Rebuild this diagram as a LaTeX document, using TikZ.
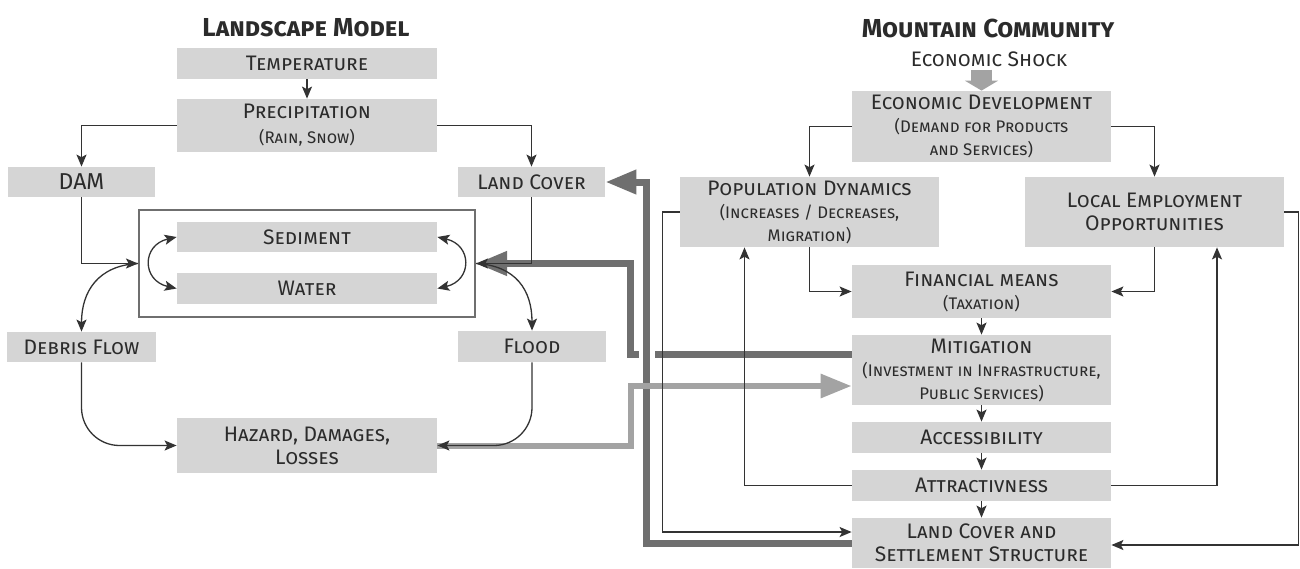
\documentclass[tikz,border=0pt]{standalone}
\usepackage{fontspec}
\setmainfont{Fira Sans}
\usetikzlibrary{arrows.meta}
\definecolor{boxg}{HTML}{D5D5D5}
\definecolor{txt}{HTML}{2B2B2B}
\definecolor{dg}{HTML}{6F6F6F}
\definecolor{lg}{HTML}{A3A3A3}
\definecolor{ln}{HTML}{333333}
\newcommand\mainsz{\fontsize{10.5}{11.5}\selectfont}
\newcommand\subsz{\fontsize{8.4}{10}\selectfont}
\begin{document}
\begin{tikzpicture}[x=0.5pt,y=-0.5pt,
 box/.style={fill=boxg,inner sep=0pt,text=txt,align=center,font=\mainsz\scshape},
 ttl/.style={text=txt,font=\fontsize{13}{14}\selectfont\bfseries\scshape,inner sep=0pt},
 arr/.style={draw=ln,line width=0.65pt,-{Stealth[length=6pt,width=5pt,inset=1.3pt]}},
 dbl/.style={draw=ln,line width=0.65pt,{Stealth[length=6pt,width=5pt,inset=1.3pt]}-{Stealth[length=6pt,width=5pt,inset=1.3pt]}},
 dgl/.style={draw=dg,line width=3.5pt,-{Triangle[length=15.5pt,width=11.5pt]}},
 lgl/.style={draw=lg,line width=3pt,-{Triangle[length=15.5pt,width=11.5pt]}}]
\fill[white] (0,0) rectangle (1300,568);
\useasboundingbox (0,0) rectangle (1300,568);
% titles
\node[ttl] (t1) at (306,28) {Landscape Model};
\node[ttl] (t2) at (988,28) {Mountain Community};
\node[text=txt,font=\mainsz\scshape,inner sep=0pt] (shock) at (989,59) {Economic Shock};
% left boxes
\node[draw=dg,line width=1pt,minimum width=168pt,minimum height=53.5pt,inner sep=0pt] (outer) at (307,263.5) {};
\node[box,minimum width=130pt,minimum height=15.5pt] (temp) at (307,63.5) {Temperature};
\node[box,minimum width=130pt,minimum height=26.5pt] (precip) at (307,125.5) {Precipitation\\[1pt]\subsz (Rain, Snow)};
\node[box,minimum width=73.5pt,minimum height=15pt,font=\fontsize{11.5}{12}\selectfont] (dam) at (81.5,182) {DAM};
\node[box,minimum width=73.5pt,minimum height=15pt] (landcover) at (531.5,182) {Land Cover};
\node[box,minimum width=130pt,minimum height=15pt] (sediment) at (307,237) {Sediment};
\node[box,minimum width=130pt,minimum height=15.5pt] (water) at (307,288.5) {Water};
\node[box,minimum width=74.5pt,minimum height=15pt] (debris) at (81.5,347) {Debris Flow};
\node[box,minimum width=74pt,minimum height=15.5pt] (flood) at (532,346.5) {Flood};
\node[box,minimum width=130pt,minimum height=27.5pt] (hazard) at (307,445.5) {Hazard, Damages,\\Losses};
% right boxes
\node[box,minimum width=129.5pt,minimum height=35.5pt] (econdev) at (981.5,126.5) {Economic Development\\\subsz (Demand for Products\\\subsz and Services)};
\node[box,minimum width=129.5pt,minimum height=35pt] (pop) at (809.5,212) {Population Dynamics\\\subsz (Increases / Decreases,\\\subsz Migration)};
\node[box,minimum width=129.5pt,minimum height=35pt] (emp) at (1154.5,212) {Local Employment\\Opportunities};
\node[box,minimum width=129.5pt,minimum height=26.5pt] (fin) at (981.5,291.5) {Financial means\\\subsz (Taxation)};
\node[box,minimum width=129.5pt,minimum height=35pt] (mitig) at (981.5,370) {Mitigation\\\subsz (Investment in Infrastructure,\\\subsz Public Services)};
\node[box,minimum width=129.5pt,minimum height=15.5pt] (access) at (981.5,437.5) {Accessibility};
\node[box,minimum width=129.5pt,minimum height=15.5pt] (attr) at (981.5,485.5) {Attractivness};
\node[box,minimum width=129.5pt,minimum height=25pt] (settle) at (981.5,543) {Land Cover and\\Settlement Structure};
% thick connectors
\draw[dgl] ([shift={(0,-16)}]mitig.west) -- ++(-221,0) |- (outer.east);
\draw[white,line width=8pt] (settle.west) -- ++(-205,0) |- (landcover.east);
\draw[dgl] (settle.west) -- ++(-205,0) |- (landcover.east);
\draw[lgl] (hazard.east) -- ++(194,0) |- ([shift={(0,16)}]mitig.west);
\draw[draw=lg,line width=10.5pt,-{Triangle[length=5pt,width=16.5pt]}] ([shift={(0,-21)}]econdev.north) -- (econdev.north);
% thin connectors left
\draw[arr] (temp) -- (precip);
\draw[arr] (precip.west) -| (dam.north);
\draw[arr] (precip.east) -| (landcover.north);
\draw[arr] (dam.south) |- (outer.west);
\draw[arr] (landcover.south) |- (outer.east);
\draw[dbl] (sediment.west) .. controls +(-35,8) and +(-35,-8) .. (water.west);
\draw[dbl] (sediment.east) .. controls +(35,8) and +(35,-8) .. (water.east);
\draw[arr] (outer.west) .. controls +(-40,2) and +(0,-40) .. (debris.north);
\draw[arr] (outer.east) .. controls +(40,2) and +(0,-40) .. (flood.north);
\draw[arr,rounded corners=19pt] (debris.south) |- (hazard.west);
\draw[arr,rounded corners=19pt] (flood.south) |- (hazard.east);
% thin connectors right
\draw[arr] (econdev.west) -| (pop.north);
\draw[arr] (econdev.east) -| (emp.north);
\draw[arr] (pop.south) |- (fin.west);
\draw[arr] (emp.south) |- (fin.east);
\draw[arr] (fin) -- (mitig);
\draw[arr] (mitig) -- (access);
\draw[arr] (access) -- (attr);
\draw[arr] (attr) -- (settle);
\draw[arr] (attr.west) -| ([shift={(-65,0)}]pop.south);
\draw[arr] (attr.east) -| ([shift={(62.5,0)}]emp.south);
\draw[arr] (pop.west) -- ++(-17,0) |- ([shift={(0,-11)}]settle.west);
\draw[arr] (emp.east) -- ++(14,0) |- ([shift={(0,2)}]settle.east);
\end{tikzpicture}
\end{document}
